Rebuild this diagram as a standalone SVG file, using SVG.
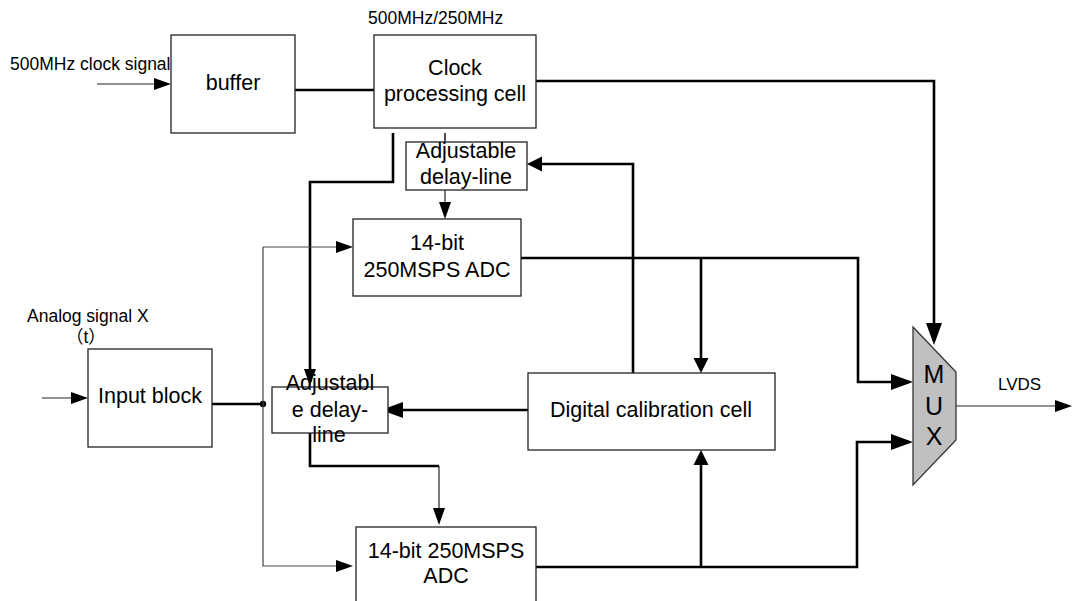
<svg xmlns="http://www.w3.org/2000/svg" width="1072" height="601" viewBox="0 0 1072 601">
<style>
.box{fill:#fff;stroke:#222;stroke-width:1.3}
.t{font-family:"Liberation Sans",Arial,"Noto Sans CJK SC",sans-serif;fill:#000}
.b{font-size:21.5px;text-anchor:middle}
.s{font-size:17.5px}
.thick{fill:none;stroke:#000;stroke-width:2.6}
.thin{fill:none;stroke:#222;stroke-width:1.2}
.gray{fill:none;stroke:#444;stroke-width:1.2}
</style>
<defs>
<marker id="at" markerUnits="userSpaceOnUse" markerWidth="17" markerHeight="12" refX="13" refY="6" orient="auto" overflow="visible"><path d="M0,0 L17,6 L0,12 z" fill="#000"/></marker>
<marker id="ak" markerUnits="userSpaceOnUse" markerWidth="22" markerHeight="16" refX="18" refY="8" orient="auto" overflow="visible"><path d="M0,0 L22,8 L0,16 z" fill="#000"/></marker>
<marker id="am" markerUnits="userSpaceOnUse" markerWidth="15" markerHeight="15" refX="11" refY="7.5" orient="auto" overflow="visible"><path d="M0,0 L15,7.5 L0,15 z" fill="#000"/></marker>
</defs>
<rect width="1072" height="601" fill="#fff"/>

<g id="connectors">
<path class="thin" d="M97,84 H167" marker-end="url(#at)"/>
<path class="thick" d="M295,90 H374"/>
<path class="thick" d="M536,81 H934 V341" marker-end="url(#ak)"/>
<path class="thick" d="M393,133 V182 H310 V382" marker-end="url(#at)"/>
<path class="thin" d="M445,133 V142" style="stroke-width:1.6"/>
<path class="thin" d="M445,190 V215" marker-end="url(#at)"/>
<path class="thick" d="M507,258 H858 V382 H909" marker-end="url(#ak)"/>
<path class="thick" d="M633,373 V164 H531" marker-end="url(#am)"/>
<path class="thick" d="M701,258 V369" marker-end="url(#am)"/>
<path class="thin" d="M42,398 H84" marker-end="url(#at)"/>
<path class="thick" d="M212,404 H263"/>
<circle cx="263" cy="404" r="3.2" fill="#000"/>
<path class="gray" d="M263,247 H349" marker-end="url(#at)"/>
<path class="gray" d="M263,247 V566 H349" marker-end="url(#at)"/>
<path class="thick" d="M528,410 H385" marker-end="url(#ak)"/>
<path class="thick" d="M310,433 V466 H439"/>
<path class="thin" d="M439,466 V521" marker-end="url(#at)"/>
<path class="thick" d="M509,567 H857 V442 H909" marker-end="url(#ak)"/>
<path class="thick" d="M701,567 V454" marker-end="url(#am)"/>
<path class="thin" d="M956,406 H1068" marker-end="url(#at)"/>
</g>

<g id="labels">
<text class="t s" x="10" y="70">500MHz clock signal</text>
<text class="t s" x="368" y="24">500MHz/250MHz</text>
<text class="t s" x="27" y="322">Analog signal X</text>
<text class="t s" x="66" y="343">（t）</text>
<text class="t" x="998" y="390" font-size="17">LVDS</text>
</g>

<g id="buffer">
<rect class="box" x="171" y="35" width="124" height="98"/>
<text class="t b" x="233" y="90">buffer</text>
</g>

<g id="clock">
<rect class="box" x="374" y="35" width="162" height="93"/>
<text class="t b" x="455" y="75">Clock</text>
<text class="t b" x="455" y="101">processing cell</text>
</g>

<g id="delay-top">
<rect class="box" x="406" y="142" width="121" height="48"/>
<text class="t b" x="466" y="158">Adjustable</text>
<text class="t b" x="466" y="184">delay-line</text>
</g>

<g id="adc-upper">
<rect class="box" x="353" y="219" width="168" height="77"/>
<text class="t b" x="437" y="250">14-bit</text>
<text class="t b" x="437" y="277">250MSPS ADC</text>
</g>

<g id="input">
<rect class="box" x="88" y="349" width="124" height="98"/>
<text class="t b" x="150" y="403">Input block</text>
</g>

<g id="delay-lower">
<rect class="box" x="272" y="387" width="116" height="46"/>
<text class="t b" x="330" y="390">Adjustabl</text>
<text class="t b" x="330" y="417">e delay-</text>
<text class="t b" x="329" y="442">line</text>
</g>

<g id="calibration">
<rect class="box" x="528" y="373" width="247" height="77"/>
<text class="t b" x="651" y="417">Digital calibration cell</text>
</g>

<g id="adc-lower">
<rect class="box" x="356" y="527" width="180" height="80"/>
<text class="t b" x="446" y="558">14-bit 250MSPS</text>
<text class="t b" x="446" y="583">ADC</text>
</g>

<g id="mux">
<polygon points="913,327 956,372 956,440 913,485" fill="#c0c0c0" stroke="#333" stroke-width="1.3"/>
<text class="t" x="934" y="383" font-size="25" text-anchor="middle">M</text>
<text class="t" x="934" y="415" font-size="25" text-anchor="middle">U</text>
<text class="t" x="934" y="445" font-size="25" text-anchor="middle">X</text>
</g>
</svg>
